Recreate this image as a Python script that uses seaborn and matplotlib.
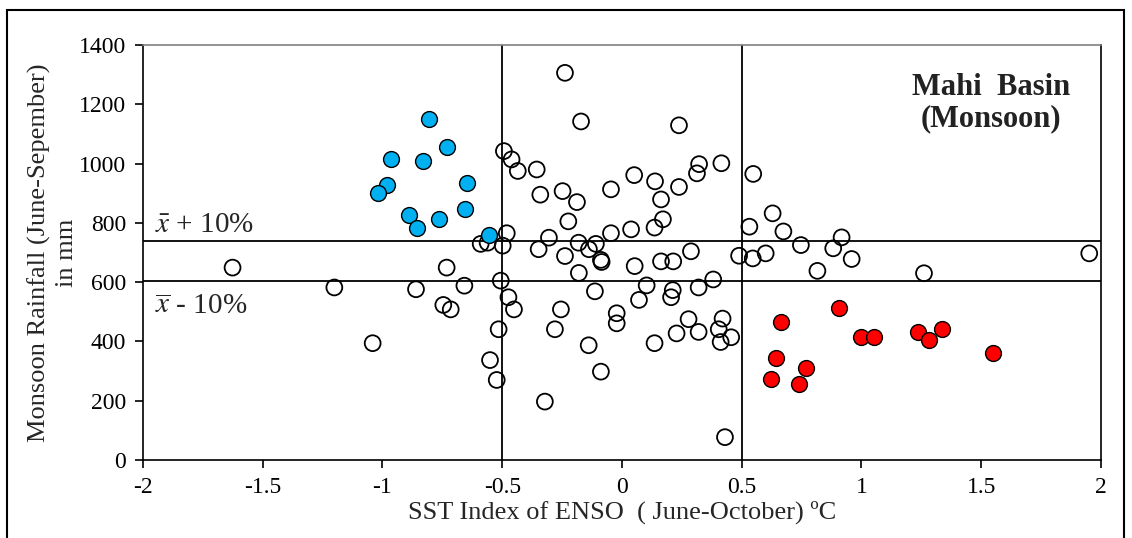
import seaborn as sns
import matplotlib.pyplot as plt
import matplotlib.patches as mpatches
import pandas as pd

# SST index (x) vs monsoon rainfall (y)
open_x = [-1.626, -1.201, -0.732, -0.860, -0.658, -0.746, -0.715, -1.041, -0.590, -0.561,
          -0.481, -0.498, -0.506, -0.474, -0.451, -0.515, -0.551, -0.523, -0.493, -0.461,
          -0.435,
          -0.238, -0.171, 0.238, -0.356, 0.051, 0.138, 0.322, 0.313, 0.415, -0.046,
          0.238, -0.341, -0.248, -0.188, 0.163, -0.224, 0.171, 0.136, -0.305, -0.046,
          0.038, -0.348, -0.238, -0.181, -0.138, -0.109, -0.088, -0.085, 0.053, -0.180,
          0.163, 0.214, 0.288, 0.489, 0.103, -0.113, 0.212, 0.205, 0.320, 0.381,
          0.071, -0.255, -0.022, -0.022, 0.278, 0.420, -0.280, 0.228, 0.320, 0.404,
          0.456, 0.412, -0.139, 0.136, -0.088, -0.322, 0.430,
          0.548, 0.629, 0.532, 0.674, 0.747, 0.882, 0.917, 0.959, 0.546, 0.600,
          0.816, 1.261, 1.951]
open_y = [649, 582, 649, 576, 588, 523, 508, 394, 729, 733,
          765, 723, 605, 549, 508, 441, 337, 270, 1042, 1014,
          975,
          1306, 1142, 1129, 980, 961, 940, 998, 967, 1001, 913,
          921, 895, 907, 870, 879, 805, 812, 784, 750, 765,
          778, 711, 688, 733, 711, 729, 675, 668, 654, 631,
          670, 670, 704, 689, 589, 569, 573, 549, 582, 609,
          540, 508, 495, 461, 475, 477, 441, 427, 432, 441,
          414, 398, 387, 394, 298, 197, 77,
          965, 832, 787, 771, 725, 714, 751, 678, 680, 697,
          638, 630, 697]

lanina_x = [-0.807, -0.732, -0.966, -0.832, -0.648, -0.982, -1.019, -0.657, -0.891, -0.765,
            -0.857, -0.557]
lanina_y = [1150, 1055, 1015, 1007, 934, 928, 900, 847, 826, 812, 784, 760]

elnino_x = [0.907, 0.664, 0.999, 1.052, 1.235, 1.335, 1.283, 1.550, 0.642, 0.767,
            0.622, 0.739]
elnino_y = [514, 467, 414, 414, 433, 441, 405, 360, 345, 311, 272, 256]

upper_line = 740
lower_line = 604

sns.set_style('white')
plt.rcParams['font.family'] = ['Liberation Serif', 'DejaVu Serif']
plt.rcParams['mathtext.fontset'] = 'stix'

fig = plt.figure(figsize=(11.32, 5.38), dpi=100)
ax = fig.add_axes([0.1263, 0.145, 0.8463, 0.7714])

others = pd.DataFrame({'sst': open_x, 'rain': open_y})
lanina = pd.DataFrame({'sst': lanina_x, 'rain': lanina_y})
elnino = pd.DataFrame({'sst': elnino_x, 'rain': elnino_y})

sns.scatterplot(x='sst', y='rain', data=others, color='white', edgecolor='black',
                s=130, linewidth=1.3, ax=ax, zorder=3)
ax.collections[-1].set_facecolor('none')
sns.scatterplot(x='sst', y='rain', data=lanina, color='#00B0F0', edgecolor='black',
                s=130, linewidth=1.0, ax=ax, zorder=4)
sns.scatterplot(x='sst', y='rain', data=elnino, color='#FF0000', edgecolor='black',
                s=130, linewidth=1.0, ax=ax, zorder=4)

ax.axhline(upper_line, color='black', lw=1.3, zorder=2)
ax.axhline(lower_line, color='black', lw=1.3, zorder=2)
ax.axvline(-0.5, color='black', lw=1.3, zorder=2)
ax.axvline(0.5, color='black', lw=1.3, zorder=2)

ax.set_xlim(-2, 2)
ax.set_ylim(0, 1400)
ax.set_xticks([-2, -1.5, -1, -0.5, 0, 0.5, 1, 1.5, 2])
ax.set_xticklabels(['-2', '-1.5', '-1', '-0.5', '0', '0.5', '1', '1.5', '2'])
ax.set_yticks(range(0, 1401, 200))
ax.tick_params(direction='out', length=6, width=1.2, colors='black', labelsize=17,
               bottom=True, left=True, pad=6)
for sp in ax.spines.values():
    sp.set_color('black')
    sp.set_linewidth(1.2)
ax.spines['top'].set_color('#808080')

ax.set_xlabel('SST Index of ENSO  ( June-October) ºC', fontsize=19, labelpad=2)
ax.set_ylabel('Monsoon Rainfall (June-Sepember)\nin mm', fontsize=19, labelpad=1,
              linespacing=1.3)

ax.text(-1.95, 793, r'$\bar{x}$ + 10%', fontsize=21, va='center', ha='left')
ax.text(-1.95, 516, r'$\overline{x}$ - 10%', fontsize=21, va='center', ha='left')
ax.text(0.885, 0.86, 'Mahi  Basin\n(Monsoon)', transform=ax.transAxes, fontsize=22,
        fontweight='bold', ha='center', va='center', linespacing=1.1, color='#222222')

# frame round the whole picture
fig.patches.append(mpatches.Rectangle((0.006, -0.01), 0.987, 0.992, transform=fig.transFigure,
                                      fill=False, edgecolor='black', lw=1.5))

fig.savefig('out.png', dpi=100)
